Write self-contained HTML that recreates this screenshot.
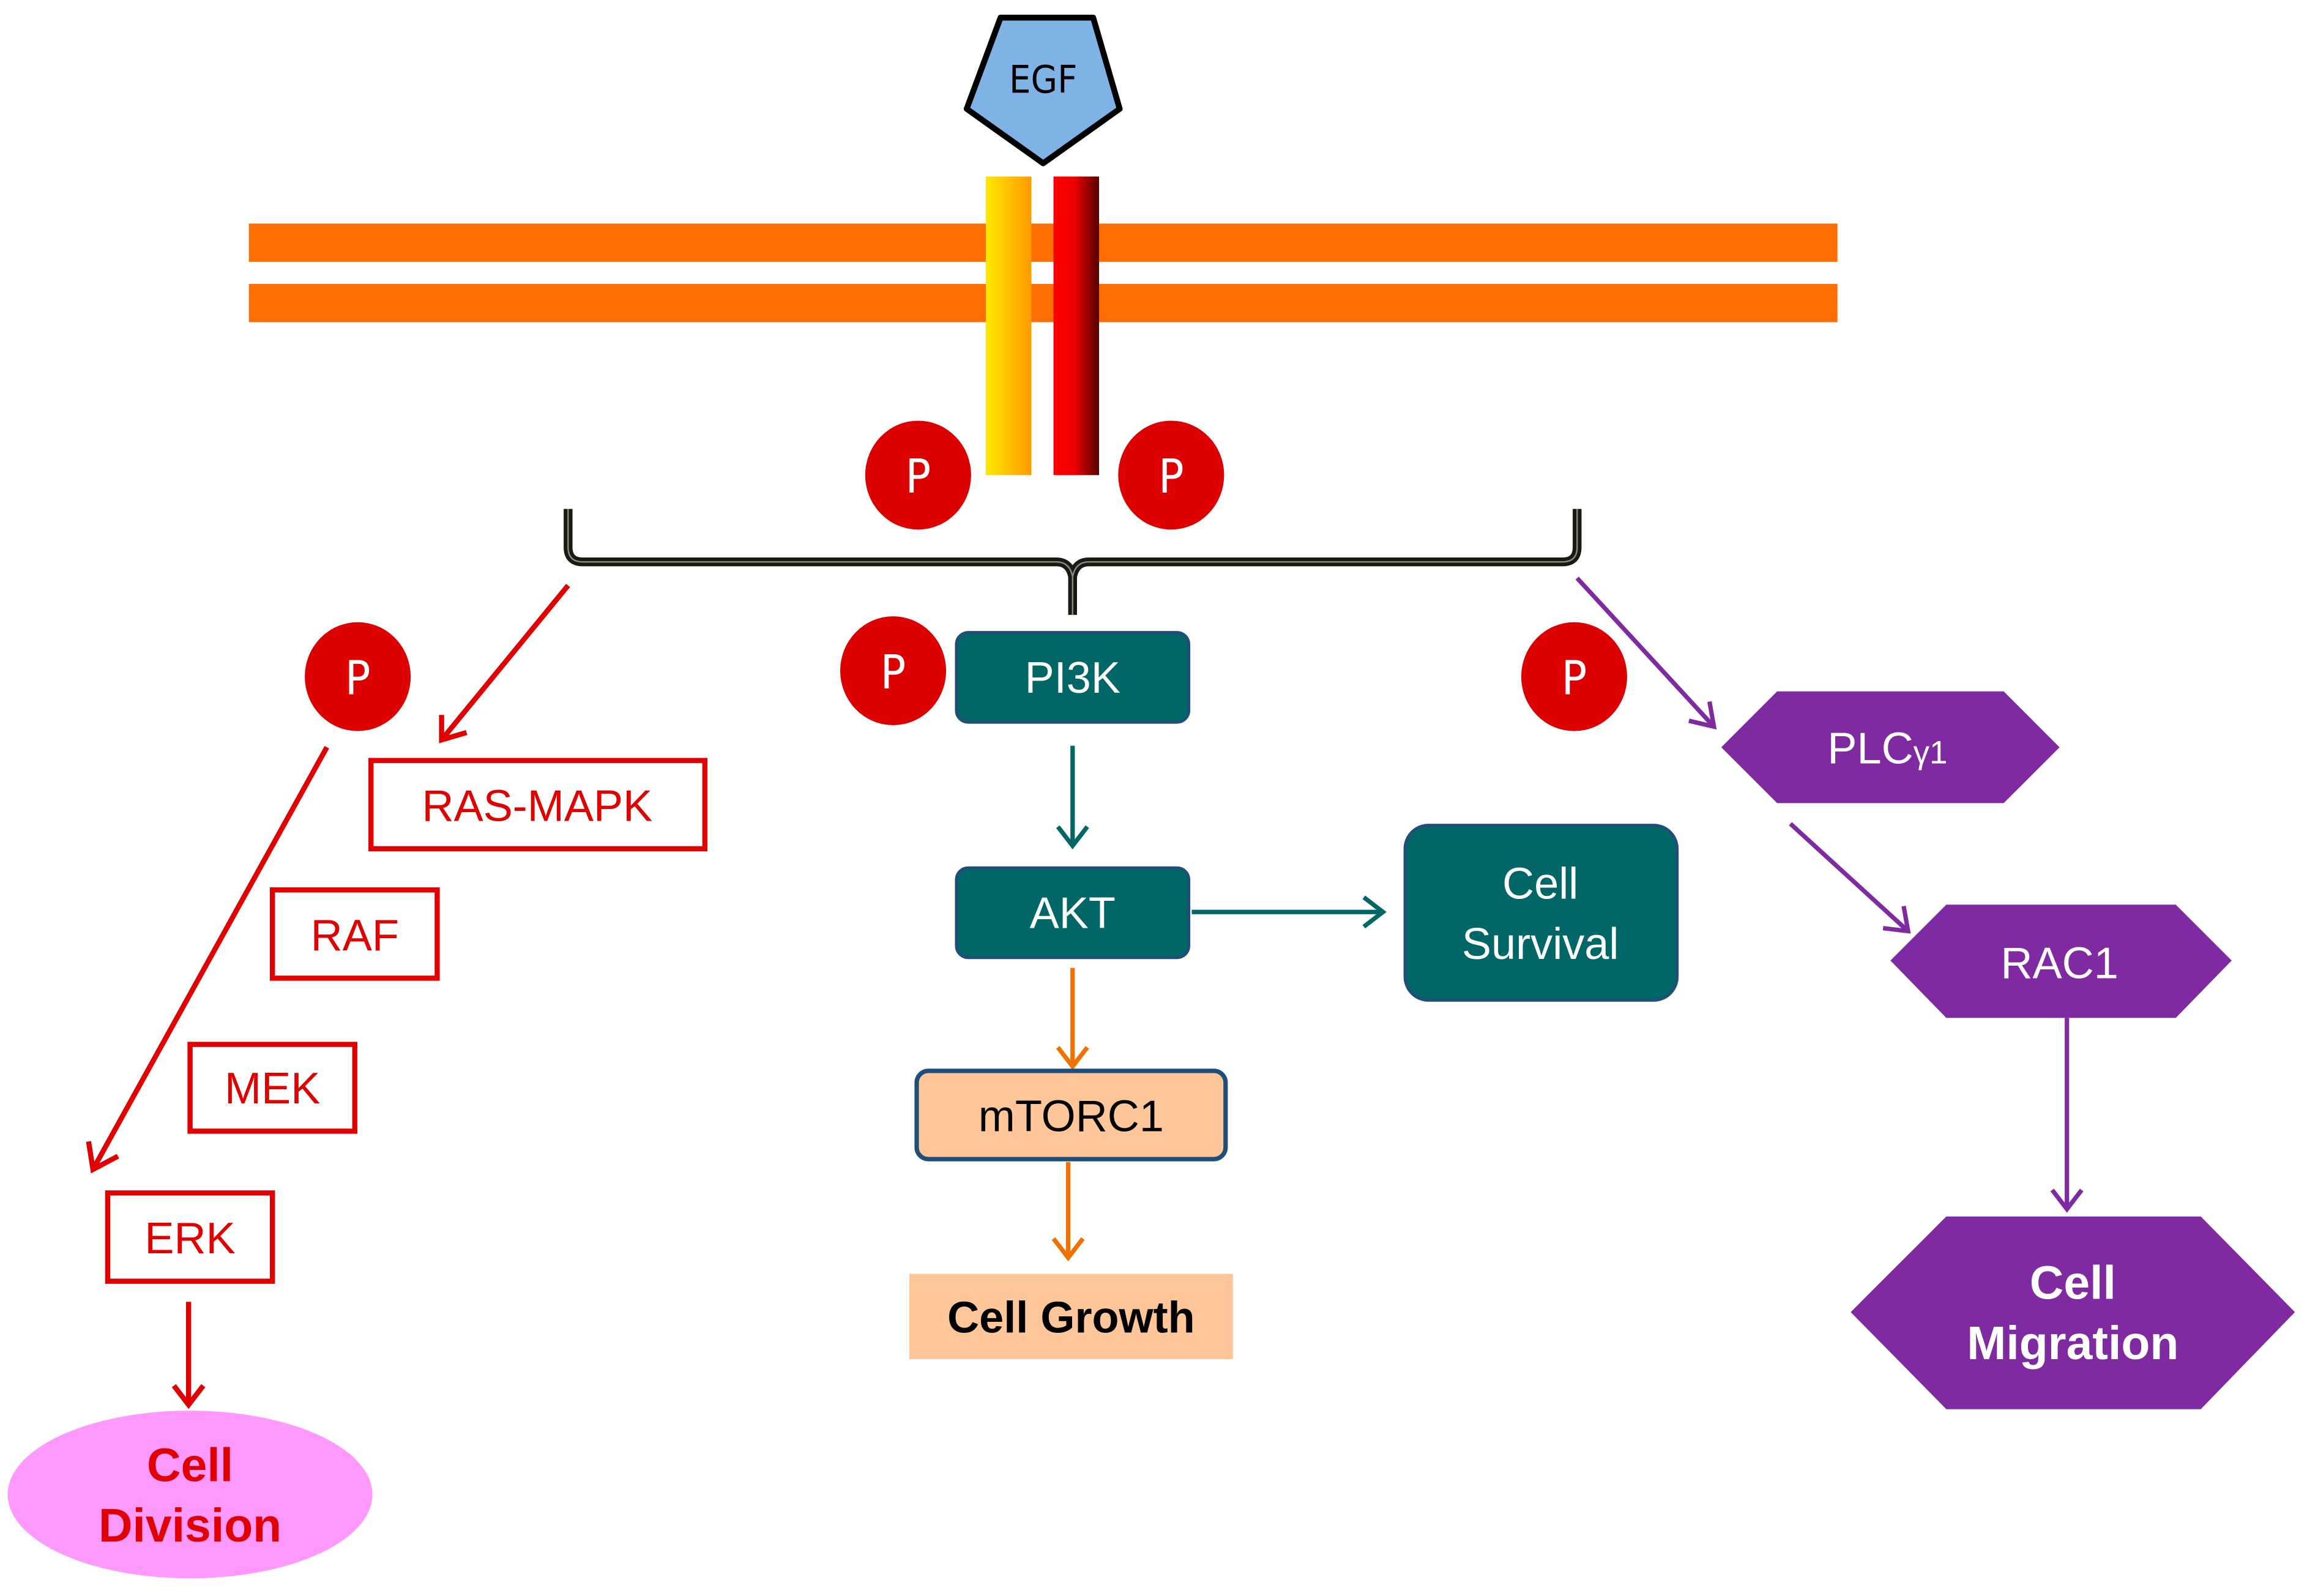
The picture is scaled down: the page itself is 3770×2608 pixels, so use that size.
<!DOCTYPE html>
<html><head><meta charset="utf-8"><style>html,body{margin:0;padding:0;background:#fff}svg{display:block}</style></head>
<body>
<svg width="3770" height="2608" viewBox="0 0 1568 1085" xmlns="http://www.w3.org/2000/svg" font-family="Liberation Sans, sans-serif">
<defs>
<linearGradient id="gy" x1="0" x2="1"><stop offset="0" stop-color="#FFE800"/><stop offset="1" stop-color="#FF9A00"/></linearGradient>
<linearGradient id="gr" x1="0" x2="1"><stop offset="0" stop-color="#FF0000"/><stop offset="0.45" stop-color="#EE0000"/><stop offset="1" stop-color="#550000"/></linearGradient>
</defs>
<rect width="1568" height="1085" fill="#fff"/>
<rect x="169" y="152" width="1080" height="26" fill="#FF6E00"/>
<rect x="169" y="193" width="1080" height="26" fill="#FF6E00"/>
<rect x="670" y="120" width="31" height="203" fill="url(#gy)"/>
<rect x="716" y="120" width="31" height="203" fill="url(#gr)"/>
<polygon points="680,12 743,12 761,74 709,111 657,74" fill="#7FB3E6" stroke="#000" stroke-width="4" stroke-linejoin="round"/>
<text x="709" y="63" font-size="26" text-anchor="middle" font-family="DejaVu Sans Condensed, DejaVu Sans, sans-serif">EGF</text>
<g fill="#DD0000">
<ellipse cx="624" cy="323" rx="36" ry="37"/><ellipse cx="796" cy="323" rx="36" ry="37"/>
<ellipse cx="243" cy="460" rx="36" ry="37"/><ellipse cx="607" cy="456" rx="36" ry="37"/><ellipse cx="1070" cy="460" rx="36" ry="37"/>
</g>
<g fill="#fff" font-size="32" text-anchor="middle" font-family="DejaVu Sans Condensed, DejaVu Sans, sans-serif">
<text x="624" y="335">P</text><text x="796" y="335">P</text><text x="243" y="472">P</text><text x="607" y="468">P</text><text x="1070" y="472">P</text>
</g>
<path d="M386,346 L386,372 Q386,382 396,382 L718,382 Q727,382 729,392 L729,418 M729,392 Q731,382 740,382 L1062,382 Q1072,382 1072,372 L1072,346" fill="none" stroke="#1a1a10" stroke-width="6"/>
<path d="M386,346 L386,372 Q386,382 396,382 L718,382 Q727,382 729,392 L729,418 M729,392 Q731,382 740,382 L1062,382 Q1072,382 1072,372 L1072,346" fill="none" stroke="#888" stroke-width="1"/>
<g stroke="#E00000" stroke-width="3.5" fill="none">
<line x1="386" y1="398" x2="300" y2="503"/><polyline points="300,486 300,503 317,498"/>
<line x1="222" y1="508" x2="63" y2="795"/><polyline points="60,776 63,795 80,786"/>
<line x1="128" y1="885" x2="128" y2="955"/><polyline points="118,942 128,955 138,942"/>
<rect x="252" y="517" width="227" height="60"/><rect x="185" y="605" width="112" height="60"/>
<rect x="129" y="710" width="112" height="59"/><rect x="73" y="811" width="112" height="60"/>
</g>
<g fill="#E00000" font-size="30" text-anchor="middle">
<text x="365" y="558">RAS-MAPK</text><text x="241" y="646">RAF</text><text x="185" y="750">MEK</text><text x="129" y="852">ERK</text>
</g>
<ellipse cx="129" cy="1016" rx="124" ry="57" fill="#FF99FF"/>
<g fill="#E00000" font-size="32" font-weight="bold" text-anchor="middle"><text x="129" y="1007">Cell</text><text x="129" y="1048">Division</text></g>
<rect x="650" y="430" width="158" height="61" rx="8" fill="#006666" stroke="#1F4E79" stroke-width="2"/>
<rect x="650" y="590" width="158" height="61" rx="8" fill="#006666" stroke="#1F4E79" stroke-width="2"/>
<rect x="955" y="561" width="185" height="119" rx="16" fill="#006666" stroke="#1F4E79" stroke-width="2"/>
<g fill="#fff" font-size="30" text-anchor="middle">
<text x="729" y="471">PI3K</text><text x="729" y="631">AKT</text><text x="1047" y="611">Cell</text><text x="1047" y="652">Survival</text>
</g>
<g stroke="#006666" stroke-width="3" fill="none">
<line x1="729" y1="507" x2="729" y2="575"/><polyline points="719,562 729,575 739,562"/>
<line x1="810" y1="620" x2="940" y2="620"/><polyline points="927,610 940,620 927,630"/>
</g>
<g stroke="#F07000" stroke-width="3" fill="none">
<line x1="729" y1="658" x2="729" y2="725"/><polyline points="719,712 729,725 739,712"/>
<line x1="726" y1="790" x2="726" y2="855"/><polyline points="716,842 726,855 736,842"/>
</g>
<rect x="623" y="728" width="210" height="60" rx="8" fill="#FFC799" stroke="#1F4E79" stroke-width="3"/>
<text x="728" y="769" font-size="30" text-anchor="middle">mTORC1</text>
<rect x="618" y="866" width="220" height="58" fill="#FFC799"/>
<text x="728" y="906" font-size="30" font-weight="bold" text-anchor="middle">Cell Growth</text>
<g stroke="#7F2AA0" stroke-width="3" fill="none">
<line x1="1072" y1="393" x2="1165" y2="494"/><polyline points="1148,490 1165,494 1162,477"/>
<line x1="1217" y1="560" x2="1297" y2="633"/><polyline points="1280,631 1297,633 1294,616"/>
<line x1="1405" y1="692" x2="1405" y2="822"/><polyline points="1395,809 1405,822 1415,809"/>
</g>
<g fill="#7F2AA0">
<polygon points="1170,508 1208,470 1362,470 1400,508 1362,546 1208,546"/>
<polygon points="1285,653 1323,615 1479,615 1517,653 1479,692 1323,692"/>
<polygon points="1258,892 1323,827 1496,827 1560,892 1496,958 1323,958"/>
</g>
<g fill="#fff" text-anchor="middle">
<text x="1283" y="519" font-size="30">PLC<tspan font-size="22">γ1</tspan></text>
<text x="1400" y="665" font-size="30">RAC1</text>
<text x="1409" y="883" font-size="32" font-weight="bold">Cell</text>
<text x="1409" y="924" font-size="32" font-weight="bold">Migration</text>
</g>
</svg>
</body></html>
